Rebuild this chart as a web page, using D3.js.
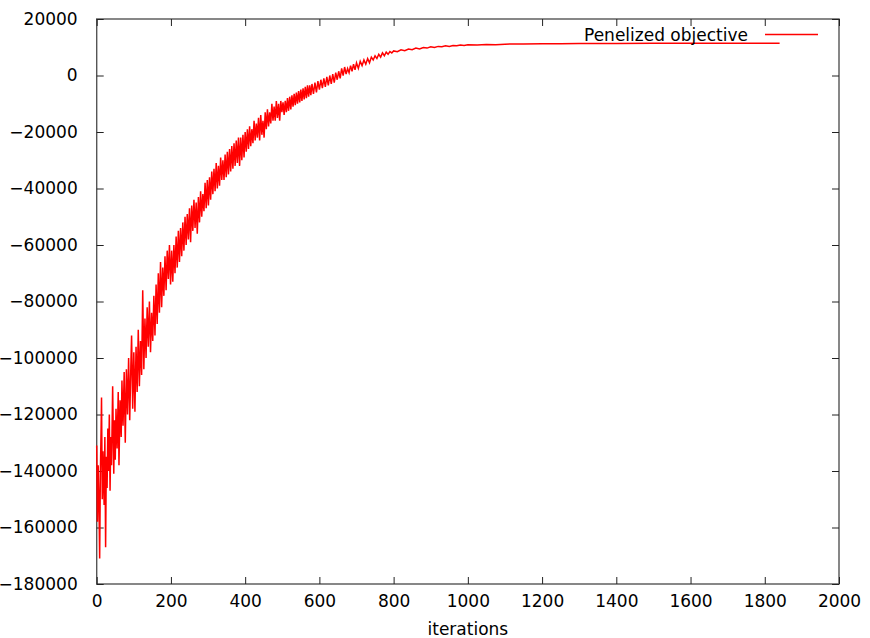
<!DOCTYPE html>
<html>
<head>
<meta charset="utf-8">
<script src="https://cdn.jsdelivr.net/npm/d3@7"></script>
<style>
  html, body { margin: 0; padding: 0; background: #fff; }
  svg { display: block; font-family: "DejaVu Sans", sans-serif; }
</style>
</head>
<body>
<svg id="chart" width="870" height="638"></svg>
<script>
// ---- data ----
const xTicks = [0, 200, 400, 600, 800, 1000, 1200, 1400, 1600, 1800, 2000];
const yTicks = [-180000, -160000, -140000, -120000, -100000, -80000, -60000, -40000, -20000, 0, 20000];
const xLabel = "iterations";
const seriesName = "Penelized objective";

const iterations = [
  0, 2, 4, 6, 8, 10, 12, 13, 15, 17, 20, 22, 24, 26, 28, 30, 32, 34, 36, 38, 40, 43, 46, 48, 50,
  52, 55, 58, 60, 63, 66, 68, 71, 74, 77, 80, 83, 86, 89, 92, 94, 97, 100, 103, 106, 109, 112, 115, 118, 121,
  124, 127, 130, 133, 136, 139, 142, 145, 148, 151, 154, 157, 160, 163, 166, 169, 172, 175, 178, 181, 184, 187, 190, 193, 196, 199,
  202, 205, 208, 211, 214, 217, 220, 223, 226, 229, 232, 235, 238, 241, 244, 247, 250, 253, 256, 259,
  262, 265, 268, 271, 274, 277, 280, 283, 286, 289, 292, 295, 298, 301, 304, 307, 310, 313, 316, 319,
  322, 325, 328, 331, 334, 337, 340, 343, 346, 349, 352, 355, 358, 361, 364, 367, 370, 373, 376, 379,
  382, 385, 388, 391, 394, 397, 400, 403, 406, 409, 412, 415, 418, 421, 424, 427, 430, 433, 436, 439,
  442, 445, 448, 451, 454, 457, 460, 463, 466, 469, 472, 475, 478, 481, 484, 487, 490, 493, 496, 499,
  502, 505, 508, 511, 514, 517, 520, 523, 526, 529, 532, 535, 538, 541, 544, 547, 550, 553, 556, 559,
  562, 565, 568, 571, 574, 577, 580, 584, 588, 592, 596, 600, 604, 608, 612, 616, 620, 624, 628, 632,
  636, 640, 644, 648, 652, 656, 660, 664, 668, 672, 676, 680, 684, 688, 692, 696, 700, 705, 710, 715,
  720, 725, 730, 735, 740, 745, 750, 755, 760, 765, 770, 775, 780, 785, 790, 795, 800, 810, 820, 830,
  840, 850, 860, 870, 880, 890, 900, 910, 920, 930, 940, 950, 960, 970, 980, 990, 1000, 1025, 1050, 1075,
  1100, 1150, 1200, 1250, 1300, 1350, 1400, 1500, 1600, 1700, 1840
];

const objective = [
  -131000, -158000, -138000, -150000, -171000, -140000, -124000, -114000, -150000, -133000, -152000, -128000, -167000, -135000, -146000, -125000, -140000, -120000, -147000, -128000, -138000, -110000, -141000, -122000, -136000,
  -118000, -132000, -112000, -138000, -115000, -128000, -108000, -124000, -105000, -130000, -104000, -120000, -100000, -122000, -103000, -92000, -118000, -98000, -119000, -96000, -112000, -90000, -110000, -94000, -106000,
  -76000, -104000, -86000, -100000, -82000, -96000, -80000, -98000, -84000, -94000, -78000, -92000, -74000, -88000, -70000, -84000, -66000, -82000, -68000, -78000, -64000, -76000, -62000, -72000, -60000, -74000,
  -62000, -73000, -60000, -70000, -57000, -68000, -55000, -66000, -54000, -64000, -52000, -62000, -50000, -60000, -49000, -58000, -47000, -59000, -46000, -55000,
  -44000, -54000, -45000, -56000, -43000, -52000, -41000, -50000, -42000, -48000, -38000, -47000, -37000, -46000, -36000, -44000, -34000, -42000, -33000, -41000,
  -31000, -40000, -32000, -39000, -29000, -37000, -30000, -37000, -28000, -36000, -27000, -35000, -26000, -34000, -25000, -33000, -24000, -32000, -23000, -31000,
  -22000, -32000, -22000, -30000, -21000, -29000, -20000, -27000, -19000, -26000, -18000, -25000, -19000, -24000, -16000, -23000, -17000, -22000, -15000, -23000,
  -14000, -21000, -16000, -22000, -13000, -19000, -12000, -18000, -13000, -17000, -10000, -16000, -11000, -16000, -9000, -15000, -10000, -16000, -9000, -13000,
  -9500, -14000, -9000, -13000, -8000, -12500, -7500, -12000, -7000, -11000, -6500, -10500, -6000, -10000, -5500, -9500, -5000, -9000, -4500, -8500,
  -4000, -8000, -3500, -7500, -3500, -7000, -3000, -6500, -2500, -6000, -2000, -5000, -1500, -4500, -1000, -4000, -500, -3500, 0, -3000,
  500, -2500, 1000, -1500, 1500, -1000, 2500, 0, 3000, 500, 2500, 1000, 3500, 1500, 4000, 2000, 4500, 2500, 5000, 3500,
  5500, 4000, 6000, 4500, 6500, 5500, 7000, 6000, 7500, 6500, 8000, 7000, 8300, 7500, 8500, 8000, 8700, 8400, 9100, 8800,
  9400, 9100, 9700, 9400, 9900, 9700, 10200, 9900, 10300, 10200, 10500, 10300, 10600, 10500, 10800, 10600, 10900, 10800, 11000, 10900,
  11100, 11150, 11250, 11200, 11320, 11300, 11360, 11380, 11400, 11410, 11420
];

(function () {
  const svg = d3.select("#chart");
  const mLeft = 96.7, mRight = 839, mTop = 19, mBottom = 584;
  const fontSize = 17;

  const x = d3.scaleLinear().domain([0, 2000]).range([mLeft, mRight]);
  const y = d3.scaleLinear().domain([-180000, 20000]).range([mBottom, mTop]);

  const data = iterations.map((d, i) => ({ it: d, v: objective[i] }));

  svg.append("rect")
    .attr("x", mLeft).attr("y", mTop)
    .attr("width", mRight - mLeft).attr("height", mBottom - mTop)
    .attr("fill", "none").attr("stroke", "#555").attr("stroke-width", 1.4);

  const fmt = d3.format("d");
  const tickLen = 7;

  function styleAxis(g) {
    g.select(".domain").remove();
    g.selectAll(".tick line").attr("stroke", "#222").attr("stroke-width", 1);
    g.selectAll(".tick text").attr("fill", "#000")
      .style("font-family", "'DejaVu Sans', sans-serif").style("font-size", fontSize + "px");
  }

  svg.append("g").attr("transform", `translate(0,${mBottom})`)
    .call(d3.axisBottom(x).tickValues(xTicks).tickFormat(fmt).tickSizeInner(-tickLen).tickSizeOuter(0).tickPadding(11))
    .call(styleAxis);
  svg.append("g").attr("transform", `translate(0,${mTop})`)
    .call(d3.axisTop(x).tickValues(xTicks).tickFormat("").tickSizeInner(-tickLen).tickSizeOuter(0))
    .call(styleAxis);
  svg.append("g").attr("transform", `translate(${mLeft},0)`)
    .call(d3.axisLeft(y).tickValues(yTicks).tickFormat(fmt).tickSizeInner(-tickLen).tickSizeOuter(0).tickPadding(19))
    .call(styleAxis);
  svg.append("g").attr("transform", `translate(${mRight},0)`)
    .call(d3.axisRight(y).tickValues(yTicks).tickFormat("").tickSizeInner(-tickLen).tickSizeOuter(0))
    .call(styleAxis);

  svg.append("text")
    .attr("x", (mLeft + mRight) / 2).attr("y", 635)
    .attr("text-anchor", "middle")
    .style("font-size", fontSize + "px").attr("fill", "#000")
    .text(xLabel);

  const line = d3.line().x(d => x(d.it)).y(d => y(d.v));
  svg.append("path")
    .datum(data)
    .attr("d", line)
    .attr("fill", "none")
    .attr("stroke", "#ff0000")
    .attr("stroke-width", 1.5)
    .attr("stroke-linejoin", "miter");

  svg.append("text")
    .attr("x", 748).attr("y", 41)
    .attr("text-anchor", "end")
    .style("font-size", fontSize + "px").attr("fill", "#000")
    .text(seriesName);
  svg.append("line")
    .attr("x1", 765).attr("x2", 818)
    .attr("y1", 34.5).attr("y2", 34.5)
    .attr("stroke", "#ff0000").attr("stroke-width", 1.3);
})();
</script>
</body>
</html>
